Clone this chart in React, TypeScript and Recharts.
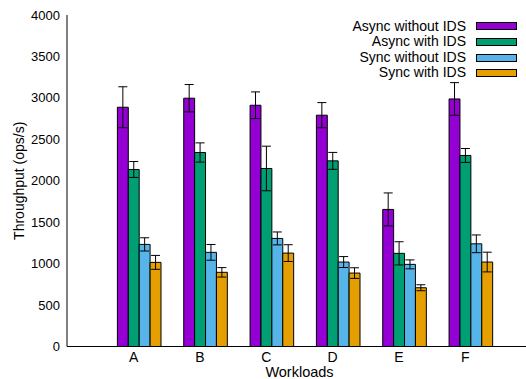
import React from 'react';
import { BarChart, Bar, XAxis, YAxis, ErrorBar, Legend } from 'recharts';

const workloads = ['A', 'B', 'C', 'D', 'E', 'F'];
const asyncNoIds = [2887, 2996, 2911, 2791, 1654, 2987];
const asyncNoIdsErr = [247, 165, 161, 152, 199, 197];
const asyncIds = [2136, 2341, 2148, 2240, 1124, 2305];
const asyncIdsErr = [96, 116, 269, 102, 140, 84];
const syncNoIds = [1232, 1136, 1304, 1019, 991, 1239];
const syncNoIdsErr = [80, 95, 78, 66, 54, 107];
const syncIds = [1015, 895, 1127, 886, 709, 1019];
const syncIdsErr = [84, 57, 101, 64, 36, 119];
const yTicks = [0, 500, 1000, 1500, 2000, 2500, 3000, 3500, 4000];

const series = [
    { key: 'asyncNoIds', name: 'Async without IDS', color: '#9400d3' },
    { key: 'asyncIds', name: 'Async with IDS', color: '#009e73' },
    { key: 'syncNoIds', name: 'Sync without IDS', color: '#56b4e9' },
    { key: 'syncIds', name: 'Sync with IDS', color: '#e69f00' }
];

const data = workloads.map((w, i) => ({
    name: w,
    pad: 0, // empty slot so the tick sits under the 2nd bar, like gnuplot
    asyncNoIds: asyncNoIds[i],
    asyncNoIdsErr: asyncNoIdsErr[i],
    asyncIds: asyncIds[i],
    asyncIdsErr: asyncIdsErr[i],
    syncNoIds: syncNoIds[i],
    syncNoIdsErr: syncNoIdsErr[i],
    syncIds: syncIds[i],
    syncIdsErr: syncIdsErr[i]
}));

const font = '"Liberation Sans", Arial, sans-serif';

const TopTick = (props: any) => (
    <line x1={props.x} x2={props.x} y1={props.y} y2={props.y + 4} stroke="#000" />
);

const LegendBox = () => (
    <div style={{ fontFamily: font, fontSize: 14, color: '#000' }}>
        {series.map((s) => (
            <div
                key={s.key}
                style={{ display: 'flex', alignItems: 'center', justifyContent: 'flex-end', height: 15.65, lineHeight: '15.65px' }}
            >
                <span>{s.name}</span>
                <span
                    style={{
                        display: 'inline-block',
                        width: 41,
                        height: 8,
                        marginLeft: 10,
                        background: s.color,
                        border: '1px solid #000',
                        boxSizing: 'border-box'
                    }}
                />
            </div>
        ))}
    </div>
);

export default function App() {
    return (
        <div style={{ position: 'absolute', left: 0, top: 0, width: 526, height: 379, overflow: 'hidden', background: '#fff' }}>
            <BarChart
                width={532}
                height={379}
                data={data}
                margin={{ top: 15, right: 0, bottom: 0, left: 0 }}
                barSize={10.9}
                barGap={0}
            >
                <XAxis
                    dataKey="name"
                    height={32.5}
                    padding={{ left: 33.5, right: 33.5 }}
                    axisLine={{ stroke: '#000' }}
                    tickLine={false}
                    tickSize={0}
                    tickMargin={6}
                    interval={0}
                    tick={{ fill: '#000', fontSize: 14, fontFamily: font }}
                    label={{ value: 'Workloads', position: 'insideBottom', offset: 2, fill: '#000', fontSize: 14.5, fontFamily: font }}
                />
                <XAxis
                    xAxisId="top"
                    orientation="top"
                    dataKey="name"
                    height={0}
                    padding={{ left: 33.5, right: 33.5 }}
                    axisLine={{ stroke: '#000' }}
                    tickLine={false}
                    tickSize={0}
                    tickMargin={0}
                    interval={0}
                    tick={TopTick}
                />
                <YAxis
                    width={67}
                    domain={[0, 4000]}
                    ticks={yTicks}
                    interval={0}
                    axisLine={{ stroke: '#000' }}
                    tickLine={false}
                    tickSize={0}
                    tickMargin={7}
                    tick={{ fill: '#000', fontSize: 13, fontFamily: font }}
                    label={{
                        content: (p: any) => {
                            const vb = p.viewBox;
                            const cx = 24;
                            const cy = vb.y + vb.height / 2;
                            return (
                                <text
                                    x={cx}
                                    y={cy}
                                    transform={`rotate(-90 ${cx} ${cy})`}
                                    textAnchor="middle"
                                    fill="#000"
                                    fontSize={14}
                                    fontFamily={font}
                                >
                                    Throughput (ops/s)
                                </text>
                            );
                        }
                    }}
                />
                <Legend
                    layout="horizontal"
                    verticalAlign="middle"
                    align="center"
                    content={LegendBox}
                    wrapperStyle={{ position: 'absolute', top: 18.5, left: 267, width: 250, height: 63 }}
                />
                <Bar dataKey="pad" fill="none" stroke="none" legendType="none" isAnimationActive={false} />
                {series.map((s) => (
                    <Bar
                        key={s.key}
                        dataKey={s.key}
                        name={s.name}
                        fill={s.color}
                        stroke="#000"
                        strokeWidth={1}
                        isAnimationActive={false}
                    >
                        <ErrorBar dataKey={s.key + 'Err'} width={4.5} stroke="#000" strokeWidth={1} isAnimationActive={false} />
                    </Bar>
                ))}
            </BarChart>
        </div>
    );
}
